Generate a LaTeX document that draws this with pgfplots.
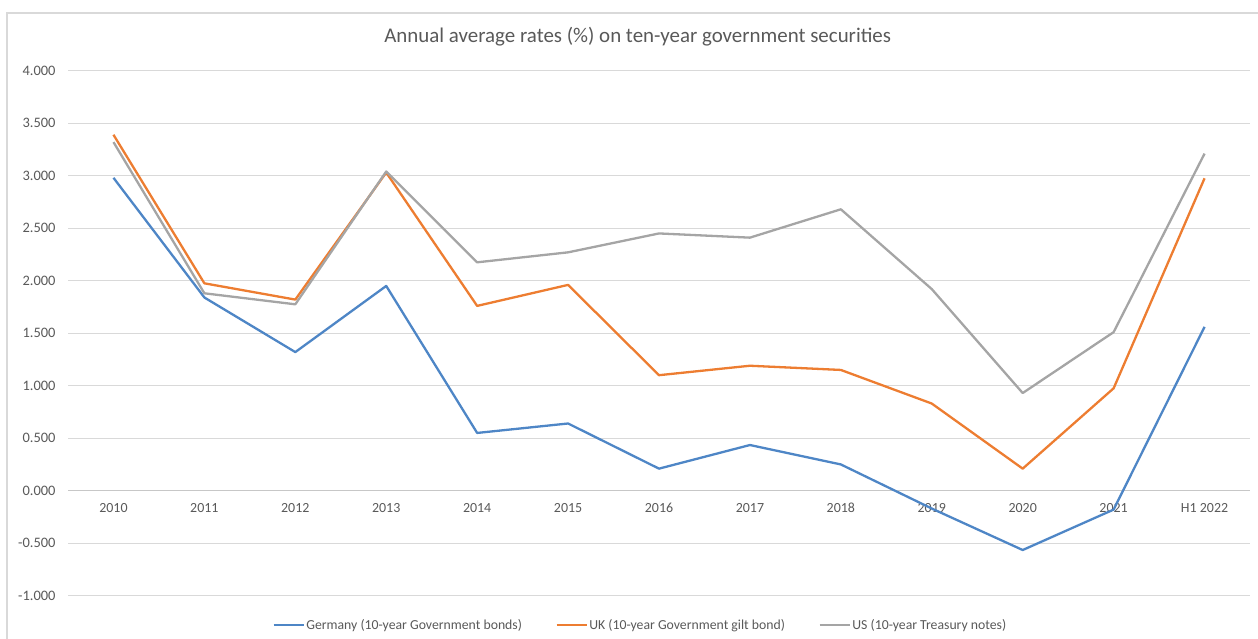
\documentclass[border=0pt]{standalone}
\usepackage{pgfplots}
\pgfplotsset{compat=1.18}
\usepackage{fontspec}
\setmainfont{Carlito}
\definecolor{cblue}{HTML}{4E86C6}
\definecolor{corange}{HTML}{ED7D31}
\definecolor{cgray}{HTML}{A5A5A5}
\definecolor{txt}{HTML}{595959}
\definecolor{gridc}{HTML}{D9D9D9}
\begin{document}
\begin{tikzpicture}[x=1bp,y=1bp]
\useasboundingbox (0,0) rectangle (1258,639);
\draw[gridc, line width=1.2bp] (7,-5) -- (7,626) -- (1265,626);
\begin{axis}[
  at={(68bp,43.3bp)}, anchor=south west,
  scale only axis, width=1182bp, height=525bp,
  xmin=-0.5, xmax=12.5, ymin=-1, ymax=4,
  axis x line=middle, axis y line=left,
  x axis line style={-, draw=gridc!80!gray, line width=1.3bp},
  y axis line style={draw=none},
  hide obscured x ticks=false, hide obscured y ticks=false,
  xtick={0,...,12},
  xticklabels={2010,2011,2012,2013,2014,2015,2016,2017,2018,2019,2020,2021,H1 2022},
  ytick={-1,-0.5,...,4},
  major tick length=0,
  ymajorgrids, grid style={draw=gridc, line width=1.2bp},
  yticklabel={\pgfmathprintnumber[fixed,fixed zerofill,precision=3]{\tick}},
  /pgf/number format/assume math mode=true,
  ticklabel style={text=txt},
  yticklabel style={xshift=-9bp, font=\fontsize{14.5}{16}\selectfont},
  xticklabel style={yshift=-9bp, font=\fontsize{14}{16}\selectfont, text height=9.5bp, text depth=1bp},
  title={Annual average rates (\%) on ten-year government securities},
  title style={at={(0.482,1.0528)}, anchor=center, font=\fontsize{21}{24}\selectfont, text=txt},
  legend columns=3,
  legend style={at={(0.484,-0.0558)}, anchor=center, draw=none, fill=none,
    font=\fontsize{13.8}{15}\selectfont, text=txt,
    /tikz/every even column/.append style={column sep=32bp},
    nodes={inner xsep=1.5bp}},
  legend image code/.code={\draw[#1, line width=2.4bp] (0bp,0bp) -- (30bp,0bp);},
  every axis plot/.append style={line width=2.3bp, line join=round, no markers},
]
\addplot[cblue] coordinates {(0,2.98) (1,1.84) (2,1.32) (3,1.95) (4,0.55) (5,0.64) (6,0.21) (7,0.435) (8,0.25) (9,-0.17) (10,-0.565) (11,-0.18) (12,1.56)};
\addlegendentry{Germany (10-year Government bonds)}
\addplot[corange] coordinates {(0,3.39) (1,1.975) (2,1.82) (3,3.03) (4,1.76) (5,1.96) (6,1.10) (7,1.19) (8,1.15) (9,0.83) (10,0.21) (11,0.975) (12,2.975)};
\addlegendentry{UK (10-year Government gilt bond)}
\addplot[cgray] coordinates {(0,3.32) (1,1.88) (2,1.775) (3,3.04) (4,2.175) (5,2.27) (6,2.45) (7,2.41) (8,2.68) (9,1.92) (10,0.93) (11,1.51) (12,3.21)};
\addlegendentry{US (10-year Treasury notes)}
\end{axis}
\end{tikzpicture}
\end{document}
